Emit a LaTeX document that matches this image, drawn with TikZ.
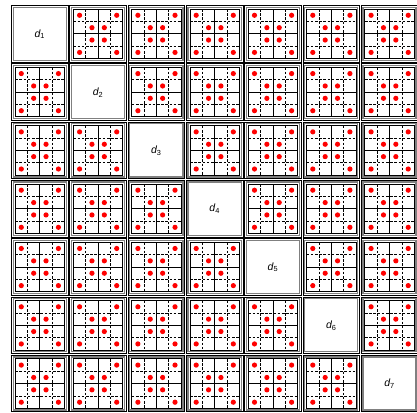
\documentclass[tikz,border=0pt]{standalone}
\usepackage{fontspec}
\setmainfont{Liberation Sans}
\begin{document}
\begin{tikzpicture}[x=1pt,y=-1pt,
  outerbox/.style={draw=black,line width=0.8pt},
  graybox/.style={draw=black!50,line width=1.3pt},
  gridbox/.style={draw=black,line width=0.9pt},
  midline/.style={draw=black,line width=1pt},
  qline/.style={draw=black,line width=0.8pt,dash pattern=on 2.6pt off 1.6pt},
  reddot/.style={fill=red},
  lbl/.style={font=\fontsize{10.5}{12}\selectfont,inner sep=0pt}]
\useasboundingbox (0,0) rectangle (417,412);
\clip (0,0) rectangle (417,412);
\fill[white] (0,0) rectangle (417,412);
\foreach \r in {0,...,6}{
  \foreach \c in {0,...,6}{
    \pgfmathsetmacro\X{11.5+58.3*\c}
    \pgfmathsetmacro\Y{5.5+58.3*\r}
    \pgfmathtruncatemacro\k{\r+1}
    \begin{scope}[shift={(\X pt,-\Y pt)}]
      \draw[outerbox] (0,0) rectangle (56.5,56.5);
      \draw[graybox] (1.7,1.7) rectangle (54.8,54.8);
      \ifnum\r=\c
        \node[lbl] (d\k) at (28.25,28.6) {\itshape d\textsubscript{\upshape\k}};
      \else
        \begin{scope}[shift={(3.6pt,-3.6pt)}]
          \draw[qline] (12.375,0) -- (12.375,49.5) (37.125,0) -- (37.125,49.5)
                       (0,12.375) -- (49.5,12.375) (0,37.125) -- (49.5,37.125);
          \draw[midline] (24.75,0) -- (24.75,49.5) (0,24.75) -- (49.5,24.75);
          \draw[gridbox] (0,0) rectangle (49.5,49.5);
          \foreach \i/\j in {1/1,7/1,3/3,5/3,3/5,5/5,1/7,7/7}
            \fill[reddot] (6.1875*\i,6.1875*\j) circle (2.6);
        \end{scope}
      \fi
    \end{scope}
  }
}
\end{tikzpicture}
\end{document}
